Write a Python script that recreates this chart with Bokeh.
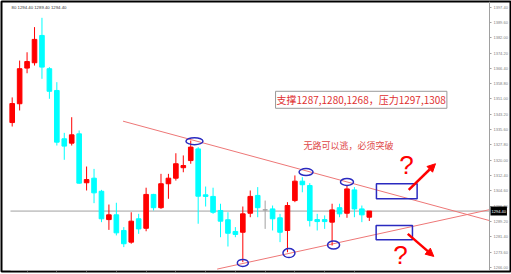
from bokeh.plotting import figure
from bokeh.models import (Range1d, LinearAxis, FixedTicker, NumeralTickFormatter,
                          Label, Arrow, NormalHead, ColumnDataSource,
                          CustomLabelingPolicy)
from bokeh.core.properties import value
from bokeh.embed import file_html
from bokeh.resources import INLINE

# ---- price data (one bar per slot, oldest first) ----
opens = [1339.1, 1348.6, 1366.6, 1369.3, 1383.1, 1366.3, 1355.3, 1330.9, 1328.7, 1333.4,
         1308.7, 1311.0, 1304.4, 1290.1, 1292.5, 1284.6, 1278.7, 1290.5, 1285.7, 1302.8,
         1296.1, 1308.2, 1311.0, 1316.3, 1319.9, 1325.8, 1302.6, 1301.8, 1294.7, 1290.0,
         1284.1, 1283.7, 1293.3, 1302.3, 1295.0, 1295.5, 1291.0, 1284.6, 1299.7, 1309.5,
         1307.3, 1290.1, 1290.1, 1288.8, 1296.1, 1293.3, 1305.1, 1295.5, 1291.3]
highs = [1351.8, 1370.4, 1374.6, 1387.3, 1392.0, 1367.1, 1359.5, 1333.9, 1341.8, 1335.1,
         1316.9, 1315.7, 1305.1, 1297.7, 1298.6, 1286.3, 1293.8, 1293.0, 1306.2, 1303.1,
         1313.2, 1313.2, 1323.6, 1322.5, 1330.0, 1326.7, 1306.8, 1306.2, 1298.1, 1293.8,
         1286.3, 1296.7, 1304.8, 1306.5, 1299.7, 1297.2, 1293.0, 1298.9, 1312.4, 1311.5,
         1308.5, 1293.0, 1292.2, 1298.1, 1298.1, 1307.3, 1306.5, 1297.2, 1294.4]
lows = [1337.1, 1345.2, 1364.0, 1367.9, 1361.2, 1351.1, 1327.5, 1320.3, 1327.5, 1308.2,
        1304.8, 1298.4, 1288.8, 1284.9, 1282.1, 1276.2, 1277.9, 1282.9, 1284.2, 1294.7,
        1295.5, 1300.6, 1309.8, 1314.0, 1318.3, 1288.0, 1296.7, 1293.0, 1281.2, 1276.5,
        1281.2, 1268.6, 1291.3, 1291.3, 1285.4, 1284.6, 1278.7, 1273.6, 1298.9, 1303.9,
        1286.6, 1284.6, 1285.4, 1277.0, 1291.3, 1291.0, 1291.3, 1288.8, 1289.4]
closes = [1348.7, 1366.3, 1369.9, 1381.1, 1367.1, 1354.9, 1329.2, 1327.2, 1332.9, 1308.5,
          1310.3, 1303.6, 1290.5, 1292.5, 1283.4, 1277.9, 1289.3, 1285.4, 1302.8, 1296.1,
          1308.2, 1311.0, 1318.3, 1317.4, 1326.7, 1301.9, 1301.8, 1293.8, 1289.3, 1283.2,
          1282.6, 1293.0, 1301.8, 1296.1, 1295.0, 1290.5, 1283.7, 1297.2, 1309.5, 1307.7,
          1289.6, 1289.1, 1289.1, 1295.0, 1293.0, 1305.6, 1295.5, 1292.5, 1294.4]

last_price = 1294.40
header_text = "80 1294.40 1289.40 1294.40"

# price scale labels on the right
price_ticks = [1266.0, 1273.6, 1281.4, 1289.2, 1296.8, 1304.6, 1312.4, 1320.0, 1327.8,
               1335.6, 1343.2, 1351.0, 1358.8, 1366.4, 1374.2, 1382.0, 1389.6, 1397.4]
# time-axis tick marks (bar index)
time_ticks = [2, 6, 10, 14, 18, 22, 26, 30, 34, 38, 42, 46]

# chart area inside the terminal window (bar index / price)
chart_left, chart_right = -0.23, 64.15
chart_bottom, chart_top = 1264.54, 1400.24

# ---- hand-drawn analysis objects (bar index, price) ----
upper_trend_x = [14.9, 64.15]
upper_trend_y = [1339.8, 1289.6]
lower_trend_x = [27.55, 64.15]
lower_trend_y = [1265.1, 1295.1]

mark_x = [24.5, 39.5, 45.0, 31.0, 37.2, 43.2]
mark_y = [1329.7, 1314.1, 1309.1, 1268.2, 1273.2, 1277.3]
mark_w = [17, 14, 13, 11, 12, 12]
mark_h = [7, 7, 7, 7, 9, 8]

zone_left = [48.96, 48.92]
zone_right = [54.43, 53.8]
zone_top = [1308.2, 1287.1]
zone_bottom = [1300.6, 1279.9]

arrow_x0 = [53.3, 53.17]
arrow_y0 = [1305.1, 1282.9]
arrow_x1 = [56.9, 56.67]
arrow_y1 = [1318.3, 1271.5]

qmark_x = [53.0, 52.2]
qmark_y = [1317.9, 1272.0]

note_main = "支撑1287,1280,1268，压力1297,1308"
note_sub = "无路可以逃，必须突破"

RED = "#ff0000"
CYAN = "#00ffff"
BLUE = "#2a2ac0"
TREND = "#ee7777"
GREY = "#a0a0a0"

n = len(opens)
colors = []
for o, c in zip(opens, closes):
    colors.append(RED if c > o else (CYAN if c < o else GREY))

src = ColumnDataSource(dict(
    idx=list(range(n)), high=highs, low=lows,
    top=[max(o, c) for o, c in zip(opens, closes)],
    bottom=[min(o, c) for o, c in zip(opens, closes)],
    color=colors,
))

# the frame fills the whole window; its outline is the black window border
p = figure(width=511, height=274, output_backend="svg", toolbar_location=None,
           x_axis_location=None, y_axis_location=None,
           x_range=Range1d(-1.438, 66.98), y_range=Range1d(1263.88, 1400.24),
           min_border_left=1, min_border_right=1, min_border_top=1, min_border_bottom=3,
           background_fill_color="white", border_fill_color="white")
p.outline_line_color = "black"
p.outline_line_width = 2
p.grid.grid_line_color = None

# price scale, pinned at the right edge of the chart area
yaxis = LinearAxis(ticker=FixedTicker(ticks=price_ticks),
                   formatter=NumeralTickFormatter(format="0.00"),
                   fixed_location=chart_right, bounds=(chart_bottom, chart_top),
                   axis_line_color=GREY, major_tick_line_color=GREY,
                   major_tick_out=2, major_tick_in=0, minor_tick_line_color=None,
                   major_label_text_font_size="4px", major_label_text_color="#808080",
                   major_label_text_font="Liberation Sans", major_label_standoff=2)
p.add_layout(yaxis, "right")

# time scale (labels fall below the window edge, only ticks show)
xaxis = LinearAxis(ticker=FixedTicker(ticks=time_ticks),
                   fixed_location=chart_bottom, bounds=(chart_left, chart_right),
                   axis_line_color=GREY, major_tick_line_color=GREY,
                   major_tick_out=2, major_tick_in=0, minor_tick_line_color=None,
                   major_label_text_font_size="1px", major_label_standoff=0,
                   major_label_policy=CustomLabelingPolicy(code="return new Set()"))
p.add_layout(xaxis, "below")

# last price line
p.segment(x0=[chart_left], y0=[last_price], x1=[chart_right], y1=[last_price],
          line_color=GREY, line_width=1)

# trend lines
p.line(upper_trend_x, upper_trend_y, line_color=TREND, line_width=1)
p.line(lower_trend_x, lower_trend_y, line_color=TREND, line_width=1)

# candles
p.segment(x0="idx", y0="low", x1="idx", y1="high", line_color="color", line_width=1, source=src)
p.vbar(x="idx", width=0.62, top="top", bottom="bottom", fill_color="color",
       line_color="color", line_width=1, source=src)

# marked turning points
p.ellipse(x=mark_x, y=mark_y, width=mark_w, height=mark_h, width_units="screen",
          height_units="screen", fill_color=None, line_color=BLUE, line_width=1.5)

# breakout zones
p.quad(left=zone_left, right=zone_right, top=zone_top, bottom=zone_bottom,
       fill_color=None, line_color=BLUE, line_width=1.5)

# breakout arrows
for x0, y0, x1, y1 in zip(arrow_x0, arrow_y0, arrow_x1, arrow_y1):
    p.add_layout(Arrow(x_start=x0, y_start=y0, x_end=x1, y_end=y1,
                       line_color=RED, line_width=2.5,
                       end=NormalHead(size=8, fill_color=RED, line_color=RED)))

p.text(x=qmark_x, y=qmark_y, text=["?", "?"], text_color=RED,
       text_font=value("Liberation Sans"), text_font_size="26px",
       text_align="center", text_baseline="middle")

# notes
p.add_layout(Label(x=35.4, y=1350.6, text=note_main, text_font="Noto Sans CJK SC",
                   text_font_size="10px", text_color="#e03030", text_baseline="middle",
                   border_line_color="#999999", background_fill_color="white", padding=1))
p.add_layout(Label(x=39.15, y=1327.5, text=note_sub, text_font="Noto Sans CJK SC",
                   text_font_size="9px", text_color="#e04848", text_baseline="middle"))

# symbol header
p.add_layout(Label(x=-0.09, y=1397.0, text=header_text, text_font="Liberation Sans",
                   text_font_size="4.3px", text_color="#333333", text_baseline="middle"))

# last price tag on the price scale
p.add_layout(Label(x=64.29, y=last_price, text="1294.40", text_font="Liberation Sans",
                   text_font_size="4px", text_color="white", text_baseline="middle",
                   background_fill_color="black", padding=(1, 3)))

open("out.html", "w").write(file_html(p, INLINE))
